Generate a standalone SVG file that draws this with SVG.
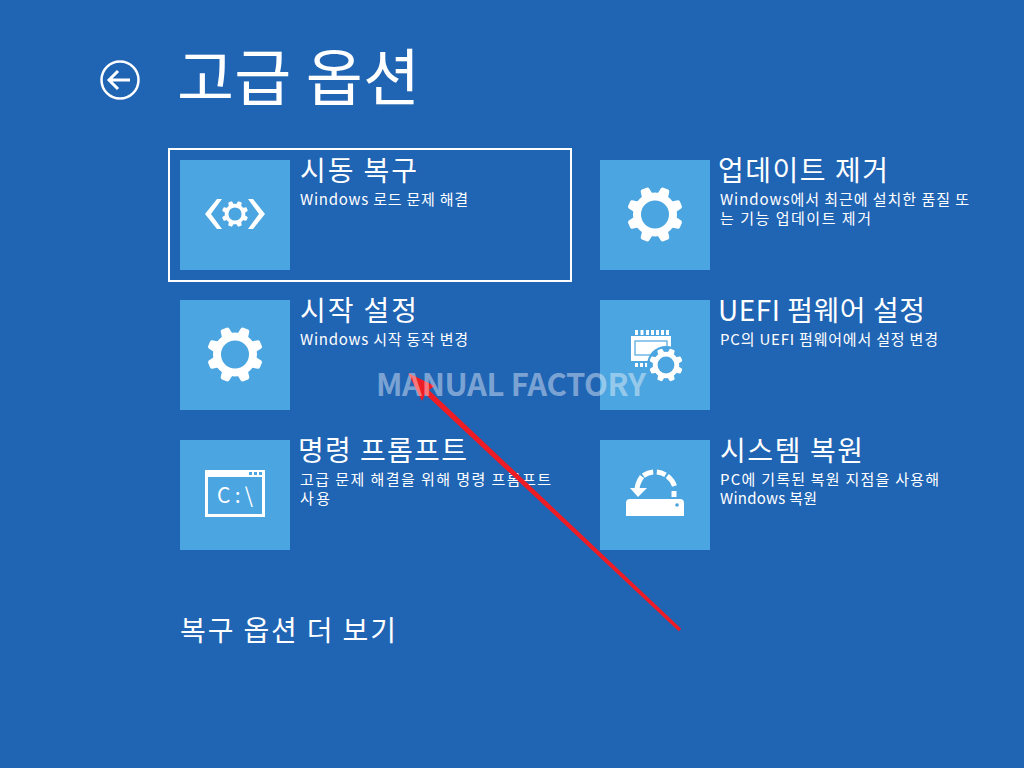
<svg xmlns="http://www.w3.org/2000/svg" width="1024" height="768" viewBox="0 0 1024 768">
<style>
text{font-family:"Noto Sans CJK KR","Noto Sans",sans-serif;fill:#fff}
.t{font-size:28px}
.d{font-size:15px}
.tile{fill:#4ba5e0}
</style>
<defs>
<g id="gear">
<g fill="#fff">
<path id="tooth" d="M-6 -18L-4.500 -26.500Q-4 -28 -2.500 -28H2.500Q4 -28 4.500 -26.500L6 -18z" transform="rotate(22.5)"/>
<use href="#tooth" transform="rotate(45)"/><use href="#tooth" transform="rotate(90)"/><use href="#tooth" transform="rotate(135)"/><use href="#tooth" transform="rotate(180)"/><use href="#tooth" transform="rotate(225)"/><use href="#tooth" transform="rotate(270)"/><use href="#tooth" transform="rotate(315)"/>
</g>
<circle r="18" fill="none" stroke="#fff" stroke-width="8"/>
</g>
</defs>
<rect width="1024" height="768" fill="#2064b4"/>
<g id="header">
<circle cx="120" cy="80" r="18.500" fill="none" stroke="#fff" stroke-width="2.500"/>
<path d="M130 80H110M118 71L109 80L118 89" fill="none" stroke="#fff" stroke-width="3"/>
<text x="177" y="101" font-size="62" textLength="243" lengthAdjust="spacing">고급 옵션</text>
</g>
<g id="node-startup-repair">
<rect x="169" y="149" width="402" height="132" fill="none" stroke="#fff" stroke-width="2"/>
<rect class="tile" x="180" y="160" width="110" height="110"/>
<path d="M205 214L217 199H222L211 214L222 229H217zM265 214L253 199H248L259 214L248 229H253z" fill="#fff"/>
<use href="#gear" transform="translate(235 214) scale(.47)"/>
<text class="t" x="300" y="181" textLength="117">시동 복구</text>
<text class="d" x="300" y="205" textLength="168">Windows 로드 문제 해결</text>
</g>
<g id="node-uninstall-updates">
<rect class="tile" x="600" y="160" width="110" height="110"/>
<use href="#gear" transform="translate(655 214.500)"/>
<text class="t" x="718" y="181" textLength="170">업데이트 제거</text>
<text class="d" x="720" y="205" textLength="249">Windows에서 최근에 설치한 품질 또</text>
<text class="d" x="720" y="224" textLength="151">는 기능 업데이트 제거</text>
</g>
<g id="node-startup-settings">
<rect class="tile" x="180" y="300" width="110" height="110"/>
<use href="#gear" transform="translate(235 354.500)"/>
<text class="t" x="300" y="321" textLength="117">시작 설정</text>
<text class="d" x="300" y="345" textLength="168">Windows 시작 동작 변경</text>
</g>
<g id="node-uefi">
<rect class="tile" x="600" y="300" width="110" height="110"/>
<path d="M635 330h3v5h-3zM640.500 330h3v5h-3zM646 330h3v5h-3zM651 330h3v5h-3zM656 330h3v5h-3zM661 330h3v5h-3zM666 330h3v5h-3zM635 363h3v4h-3zM640 363h3v4h-3zM645 363h3v4h-3z" fill="#fff"/>
<rect x="631" y="336" width="40" height="25" fill="#fff"/>
<rect x="635" y="341" width="32" height="14" fill="#fff" stroke="#4ba5e0" stroke-width="1.200"/>
<circle cx="666" cy="365" r="19" fill="#4ba5e0"/>
<use href="#gear" transform="translate(666 365) scale(.6)"/>
<text class="t" x="718" y="321" textLength="207">UEFI 펌웨어 설정</text>
<text class="d" x="720" y="345" textLength="218">PC의 UEFI 펌웨어에서 설정 변경</text>
</g>
<g id="node-command-prompt">
<rect class="tile" x="180" y="440" width="110" height="110"/>
<rect x="206.500" y="471.500" width="57" height="44" fill="none" stroke="#fff" stroke-width="3"/>
<rect x="205" y="470" width="60" height="7" fill="#fff"/>
<path d="M249 472h3v3h-3zM254 472h3v3h-3zM259 472h3v3h-3z" fill="#4ba5e0"/>
<text x="217" y="503" font-size="21" textLength="36">C:\</text>
<text class="t" x="298" y="461" textLength="169">명령 프롬프트</text>
<text class="d" x="300" y="485" textLength="251">고급 문제 해결을 위해 명령 프롬프트</text>
<text class="d" x="300" y="504" textLength="30">사용</text>
</g>
<g id="node-system-restore">
<rect class="tile" x="600" y="440" width="110" height="110"/>
<path d="M626 503q0-4 4-4h50q4 0 4 4v13h-58z" fill="#fff"/>
<circle cx="677" cy="505" r="1.800" fill="#4ba5e0"/>
<path d="M637 489Q637.500 483 642 476.500M643.300 475.600A21 21 0 0 1 653.200 472.100M656.800 472.100A21 21 0 0 1 665.500 474.800M667.300 476A21 21 0 0 1 674.500 486M674 491V497" fill="none" stroke="#fff" stroke-width="5"/>
<path d="M630 488H647L638 497z" fill="#fff"/>
<text class="t" x="720" y="461" textLength="143">시스템 복원</text>
<text class="d" x="720" y="485" textLength="219">PC에 기록된 복원 지점을 사용해</text>
<text class="d" x="720" y="504" textLength="97">Windows 복원</text>
</g>
<text id="more-options" x="180" y="641" font-size="28" textLength="216">복구 옵션 더 보기</text>
<g id="connectors">
<path d="M408 373L435 386L428.900 390L681.200 628.800L678.800 631.200L425.100 394L422 401z" fill="#ee1c25"/>
</g>
<text id="watermark" x="376" y="396" font-size="31" font-weight="700" fill-opacity=".42" textLength="270" lengthAdjust="spacing">MANUAL FACTORY</text>
</svg>
